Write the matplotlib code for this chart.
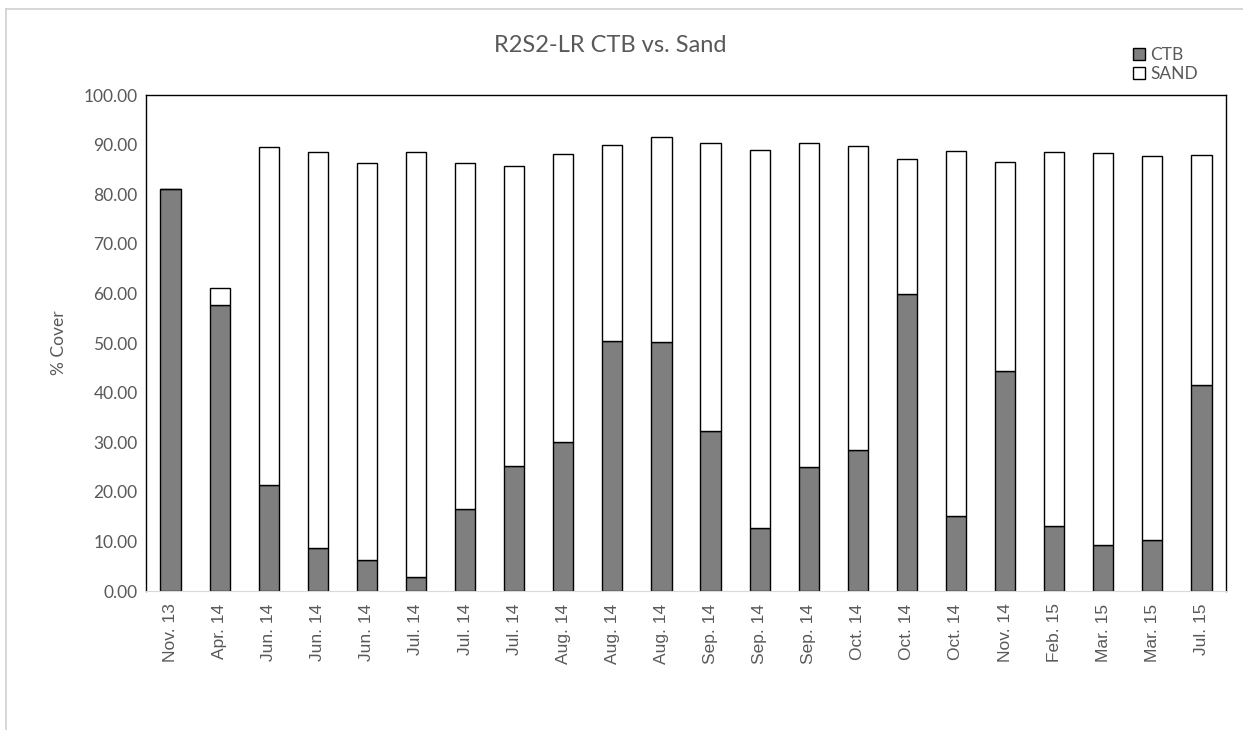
import matplotlib
matplotlib.use("Agg")
import matplotlib.pyplot as plt
import numpy as np
from matplotlib.lines import Line2D

dates = ["Nov. 13", "Apr. 14", "Jun. 14", "Jun. 14", "Jun. 14", "Jul. 14", "Jul. 14",
         "Jul. 14", "Aug. 14", "Aug. 14", "Aug. 14", "Sep. 14", "Sep. 14", "Sep. 14",
         "Oct. 14", "Oct. 14", "Oct. 14", "Nov. 14", "Feb. 15", "Mar. 15", "Mar. 15", "Jul. 15"]
ctb = [81.1, 57.7, 21.4, 8.7, 6.2, 2.8, 16.5, 25.2, 30.0, 50.5, 50.3, 32.2,
       12.8, 24.9, 28.5, 59.8, 15.1, 44.3, 13.1, 9.2, 10.3, 41.6]
total = [81.1, 61.0, 89.5, 88.6, 86.2, 88.6, 86.3, 85.7, 88.1, 89.9, 91.6, 90.3,
         89.0, 90.4, 89.7, 87.0, 88.7, 86.4, 88.6, 88.3, 87.7, 88.0]
sand = [t - c for t, c in zip(total, ctb)]

txt = "#595959"
W, H = 1243, 730
fig = plt.figure(figsize=(W / 100, H / 100), dpi=100)
ax = fig.add_axes([146 / W, 1 - 591 / H, (1226 - 146) / W, (591 - 95) / H])

x = np.arange(len(dates))
ax.bar(x, ctb, width=0.41, color="#7f7f7f", edgecolor="black", linewidth=1.0, label="CTB")
ax.bar(x, sand, width=0.41, bottom=ctb, color="white", edgecolor="black", linewidth=1.0, label="SAND")

ax.set_xlim(-0.5, len(dates) - 0.5)
ax.set_ylim(0, 100)
ax.set_yticks(np.arange(0, 101, 10))
ax.set_yticklabels(["%.2f" % v for v in np.arange(0, 101, 10)], fontfamily="Lato", fontsize=12.5, color=txt)
ax.set_xticks(x)
ax.set_xticklabels(dates, rotation=90, fontfamily="Liberation Sans", fontsize=12.5, color=txt)
ax.tick_params(length=0, pad=6)
ax.tick_params(axis="x", pad=9)
for s in ["left", "top", "right"]:
    ax.spines[s].set_color("black")
    ax.spines[s].set_linewidth(1.0)
ax.spines["bottom"].set_color("#d9d9d9")

ax.set_ylabel("% Cover", fontfamily="Lato", fontsize=12.5, color=txt, labelpad=12)
fig.text(610 / W, 1 - 45 / H, "R2S2-LR CTB vs. Sand", ha="center", va="center",
         fontfamily="Lato", fontsize=17, color=txt)

leg = fig.legend(loc="upper left", bbox_to_anchor=(1124 / W, 1 - 38 / H), frameon=False,
                 prop={"family": "Lato", "size": 12.5}, handlelength=0.7, handleheight=0.7,
                 handletextpad=0.3, labelspacing=0.2, borderpad=0)
for t in leg.get_texts():
    t.set_color(txt)

# light outer border (left and top edges)
fig.lines.append(Line2D([6 / W, 6 / W], [0, 1 - 9 / H], transform=fig.transFigure,
                        color="#d0d0d0", linewidth=1.2))
fig.lines.append(Line2D([6 / W, 1], [1 - 9 / H, 1 - 9 / H], transform=fig.transFigure,
                        color="#d0d0d0", linewidth=1.2))

fig.savefig("out.png", dpi=100)
